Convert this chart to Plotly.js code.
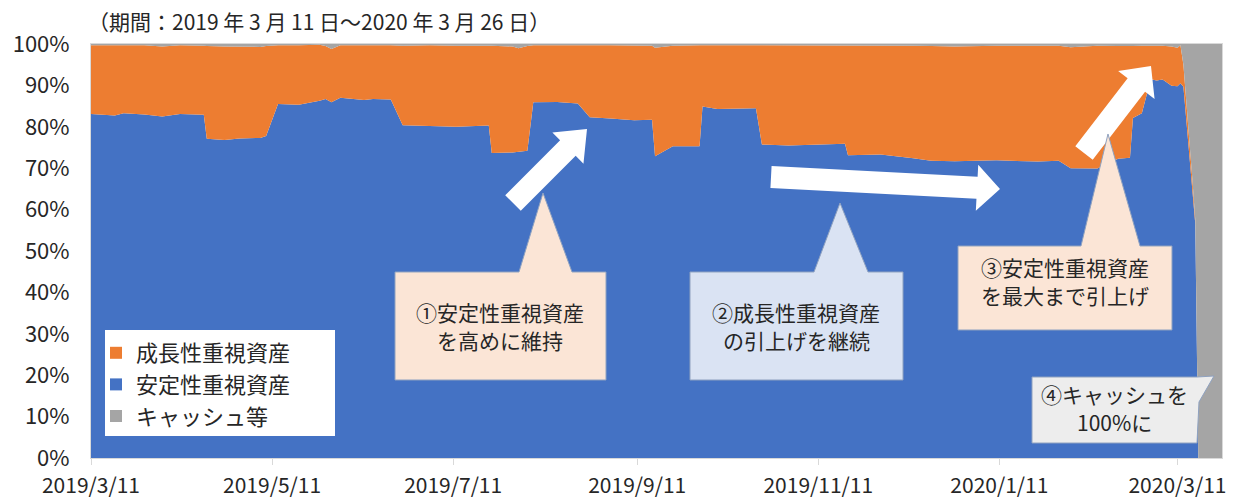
<!DOCTYPE html>
<html>
<head>
<meta charset="utf-8">
<script src="https://cdn.plot.ly/plotly-3.0.1.min.js"></script>
<style>html,body{margin:0;padding:0;background:#fff;}#chart{width:1240px;height:500px;}</style>
</head>
<body>
<div id="chart"></div>
<script>
// ---- data ----
const dates = ['2019-03-11','2019-03-19','2019-03-22','2019-03-29','2019-04-04','2019-04-10','2019-04-18','2019-04-19','2019-04-25','2019-04-30',
'2019-05-07','2019-05-09','2019-05-13','2019-05-20','2019-05-27','2019-05-29','2019-05-31','2019-06-03','2019-06-11','2019-06-14',
'2019-06-20','2019-06-24','2019-07-03','2019-07-12','2019-07-23','2019-07-24','2019-07-31','2019-08-02','2019-08-05','2019-08-07',
'2019-08-15','2019-08-22','2019-08-26','2019-09-02','2019-09-10','2019-09-16','2019-09-17','2019-09-23','2019-10-02','2019-10-03',
'2019-10-08','2019-10-21','2019-10-23','2019-11-01','2019-11-11','2019-11-20','2019-11-21','2019-12-02','2019-12-13','2019-12-19',
'2019-12-27','2020-01-10','2020-01-24','2020-01-31','2020-02-04','2020-02-13','2020-02-20','2020-02-24','2020-02-25','2020-02-28',
'2020-03-02','2020-03-04','2020-03-06','2020-03-09','2020-03-11','2020-03-12','2020-03-13','2020-03-16','2020-03-17','2020-03-18','2020-03-26'];
const stableAssets = [83.1,82.7,83.3,83.0,82.5,83.1,82.9,77.1,76.8,77.2,
77.3,77.8,85.5,85.3,86.3,86.7,85.9,87.0,86.5,86.7,
86.6,80.4,80.2,80.0,80.3,73.7,73.8,74.0,74.2,85.9,
86.0,85.6,82.3,82.0,81.6,81.7,72.9,75.3,75.3,84.9,
84.3,84.5,75.7,75.5,75.8,75.9,73.1,73.3,72.4,71.8,
71.7,71.9,71.6,71.8,70.0,69.9,72.3,72.5,82.1,83.3,
91.5,91.2,91.4,89.9,89.8,90.5,89.7,64.5,56.5,0,0];
const growthAssets = [16.6,17.0,16.5,16.7,16.9,16.6,16.7,22.4,22.6,22.1,
22.0,21.7,14.2,14.4,13.5,12.8,12.9,12.7,13.2,13.1,
13.1,19.2,19.5,19.6,19.4,25.9,25.6,25.0,25.3,13.8,
13.7,14.0,17.4,17.7,18.1,17.9,26.2,24.3,24.4,14.8,
15.3,15.2,23.9,24.2,23.8,23.8,26.5,26.4,27.2,27.7,
27.7,27.7,28.0,27.8,29.2,29.7,27.2,26.9,17.4,16.3,
8.1,8.3,8.2,9.5,9.3,9.2,5.3,3.0,1.0,0,0];
const cashAssets = [0.3,0.3,0.2,0.3,0.6,0.3,0.4,0.5,0.6,0.7,
0.7,0.5,0.3,0.3,0.2,0.5,1.2,0.3,0.3,0.2,
0.3,0.4,0.3,0.4,0.3,0.4,0.6,1.0,0.5,0.3,
0.3,0.4,0.3,0.3,0.3,0.4,0.9,0.4,0.3,0.3,
0.4,0.3,0.4,0.3,0.4,0.3,0.4,0.3,0.4,0.5,
0.6,0.4,0.4,0.4,0.8,0.4,0.5,0.6,0.5,0.4,
0.4,0.5,0.4,0.6,0.9,0.3,5.0,32.5,42.5,100,100];
const seriesNames = ['成長性重視資産','安定性重視資産','キャッシュ等'];
const tickDates = ['2019-03-11','2019-05-11','2019-07-11','2019-09-11','2019-11-11','2020-01-11','2020-03-11'];
const tickLabels = ['2019/3/11','2019/5/11','2019/7/11','2019/9/11','2019/11/11','2020/1/11','2020/3/11'];
const titleText = '（期間：2019 年 3 月 11 日～2020 年 3 月 26 日）';
const callout1 = ['①安定性重視資産','を高めに維持'];
const callout2 = ['②成長性重視資産','の引上げを継続'];
const callout3 = ['③安定性重視資産','を最大まで引上げ'];
const callout4 = ['④キャッシュを','100%に'];

// ---- styling / geometry ----
const C_BLUE='#4472C4', C_ORANGE='#ED7D31', C_GRAY='#A5A5A5';
const FONT='"Noto Sans CJK JP", "Noto Sans", sans-serif';
const TXT='#262626';
const L=91,R=1222,T=44,B=458;
const px = x => (x-L)/(R-L);
const py = y => (B-y)/(B-T);
function pathOf(pts){ return 'M' + pts.map(p => px(p[0]).toFixed(5)+','+py(p[1]).toFixed(5)).join(' L') + ' Z'; }
function arrowPts(tail, tip, sw, hw, hl){
  const dx=tip[0]-tail[0], dy=tip[1]-tail[1], len=Math.hypot(dx,dy);
  const ux=dx/len, uy=dy/len, nx=-uy, ny=ux;
  const bx=tip[0]-ux*hl, by=tip[1]-uy*hl;
  return [[tail[0]+nx*sw/2, tail[1]+ny*sw/2],[bx+nx*sw/2, by+ny*sw/2],[bx+nx*hw/2, by+ny*hw/2],tip,
          [bx-nx*hw/2, by-ny*hw/2],[bx-nx*sw/2, by-ny*sw/2],[tail[0]-nx*sw/2, tail[1]-ny*sw/2]];
}
function shapePath(pts, fill, line){
  return {type:'path', xref:'paper', yref:'paper', path:pathOf(pts), fillcolor:fill,
          line:{color: line||fill, width: line?1:0}, layer:'above'};
}
function textAnns(lines, x, yFirst, gap){
  return lines.map((t,i) => ({xref:'paper', yref:'paper', x:px(x), y:py(yFirst + i*gap), text:t, showarrow:false,
          xanchor:'center', yanchor:'middle', align:'center', font:{family:FONT, size:21, color:TXT}}));
}

const traces = [
  {x:dates, y:stableAssets, name:seriesNames[1], stackgroup:'one', mode:'lines', line:{width:0,color:C_BLUE}, fillcolor:C_BLUE, showlegend:false, hoverinfo:'skip'},
  {x:dates, y:growthAssets, name:seriesNames[0], stackgroup:'one', mode:'lines', line:{width:0,color:C_ORANGE}, fillcolor:C_ORANGE, showlegend:false, hoverinfo:'skip'},
  {x:dates, y:cashAssets, name:seriesNames[2], stackgroup:'one', mode:'lines', line:{width:0,color:C_GRAY}, fillcolor:C_GRAY, showlegend:false, hoverinfo:'skip'},
  {x:[null], y:[null], name:seriesNames[0], mode:'markers', marker:{symbol:'square', size:12, color:C_ORANGE}, showlegend:true},
  {x:[null], y:[null], name:seriesNames[1], mode:'markers', marker:{symbol:'square', size:12, color:C_BLUE}, showlegend:true},
  {x:[null], y:[null], name:seriesNames[2], mode:'markers', marker:{symbol:'square', size:12, color:C_GRAY}, showlegend:true}
];

const CALL_LINE='#8FA2C0';
const shapes = [
  // legend background
  {type:'rect', xref:'paper', yref:'paper', x0:px(105), x1:px(335), y0:py(436), y1:py(330), fillcolor:'#FFFFFF', line:{width:0}, layer:'above'},
  // white arrows
  shapePath(arrowPts([513,203],[587,129],22,44,27), '#FFFFFF'),
  shapePath(arrowPts([771,177],[1000,189],22,46,23), '#FFFFFF'),
  shapePath(arrowPts([1084,153],[1151,66],22,46,24), '#FFFFFF'),
  // callouts
  shapePath([[395,272],[519,272],[543,193],[572,272],[606,272],[606,380],[395,380]], '#FBE5D6', CALL_LINE),
  shapePath([[690,272],[814,272],[840,203],[868,272],[903,272],[903,380],[690,380]], '#DAE3F3', CALL_LINE),
  shapePath([[958,246],[1081,246],[1108,134],[1140,246],[1172,246],[1172,330],[958,330]], '#FBE5D6', CALL_LINE),
  shapePath([[1032,377],[1197,377],[1214,376],[1199,402],[1197,443],[1032,443]], '#EDEDED', CALL_LINE)
];

const annotations = [
  {xref:'paper', yref:'paper', x:px(86), y:py(21), text:titleText, showarrow:false, xanchor:'left', yanchor:'middle',
   font:{family:FONT, size:21, color:TXT}},
  ...textAnns(callout1, 500, 312, 28),
  ...textAnns(callout2, 796, 312, 28),
  ...textAnns(callout3, 1065, 267, 28),
  ...textAnns(callout4, 1114, 394, 28)
];

const layout = {
  width:1240, height:500,
  margin:{l:L, r:1240-R, t:T, b:500-B, pad:0},
  paper_bgcolor:'#FFFFFF', plot_bgcolor:'#FFFFFF',
  font:{family:FONT, color:TXT},
  xaxis:{type:'date', range:['2019-03-11','2020-03-26'], tickvals:tickDates, ticktext:tickLabels,
         ticks:'outside', ticklen:6, tickcolor:'#D9D9D9', showline:true, linecolor:'#D9D9D9', linewidth:1,
         showgrid:false, zeroline:false, mirror:true, tickfont:{family:FONT, size:21, color:TXT}, ticklabelstandoff:3},
  yaxis:{range:[0,100], dtick:10, tick0:0, ticksuffix:'%', showgrid:false, zeroline:false, ticks:'',
         showline:true, linecolor:'#D9D9D9', mirror:true, tickfont:{family:FONT, size:22, color:TXT}, ticklabelstandoff:16},
  showlegend:true,
  legend:{x:px(96), y:py(332), xanchor:'left', yanchor:'top', bgcolor:'rgba(0,0,0,0)', borderwidth:0,
          font:{family:FONT, size:22, color:TXT}, traceorder:'normal', itemwidth:30, tracegroupgap:0},
  shapes:shapes, annotations:annotations
};

Plotly.newPlot('chart', traces, layout, {displayModeBar:false, staticPlot:true});
</script>
</body>
</html>
